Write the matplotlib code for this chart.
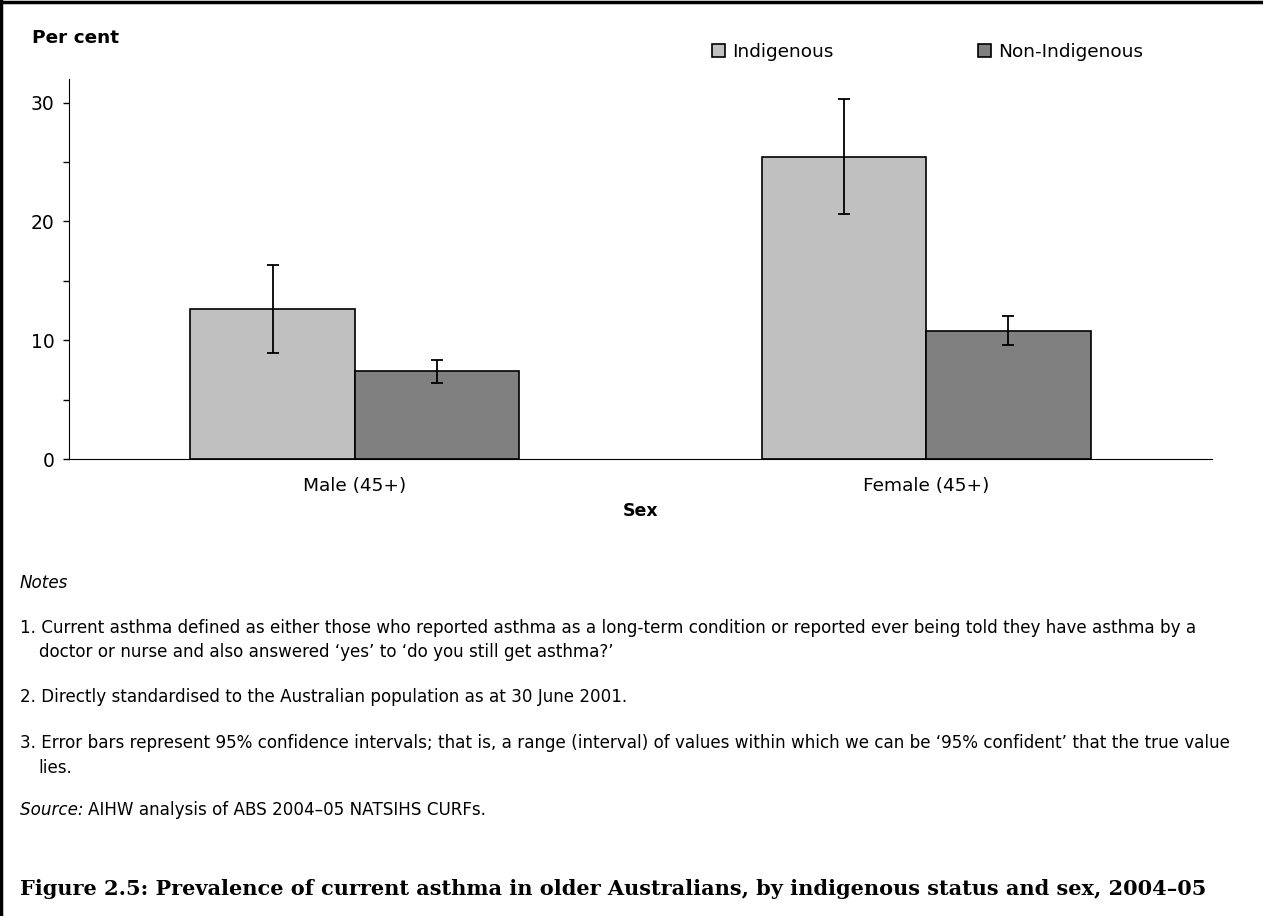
import matplotlib.pyplot as plt
import numpy as np
from matplotlib.lines import Line2D

plt.rcParams['font.family'] = ['DejaVu Sans']

# data
groups = ['Male (45+)', 'Female (45+)']
series = ['Indigenous', 'Non-Indigenous']
indigenous = [12.6, 25.4]
indigenous_lo = [8.9, 20.6]
indigenous_hi = [16.3, 30.3]
non_indigenous = [7.4, 10.8]
non_indigenous_lo = [6.4, 9.6]
non_indigenous_hi = [8.3, 12.0]

colors = ['#c0c0c0', '#808080']

fig = plt.figure(figsize=(12.63, 9.16), dpi=100)
ax = fig.add_axes([0.0546, 0.4989, 0.905, 0.4149])

x = np.arange(len(groups))
w = 0.2875
vals = [indigenous, non_indigenous]
los = [indigenous_lo, non_indigenous_lo]
his = [indigenous_hi, non_indigenous_hi]
for i, name in enumerate(series):
    pos = x + (i - 0.5) * w
    v = np.array(vals[i])
    err = [v - np.array(los[i]), np.array(his[i]) - v]
    ax.bar(pos, v, w, color=colors[i], edgecolor='black', linewidth=1.2, label=name,
           yerr=err, capsize=4, error_kw=dict(elinewidth=1.3, capthick=1.3, ecolor='black'))

ax.set_xlim(-0.5, 1.5)
ax.set_ylim(0, 32)
ax.set_yticks([0, 10, 20, 30])
ax.set_yticks([5, 15, 25], minor=True)
ax.tick_params(axis='y', which='both', direction='out', length=4.5, width=1, labelsize=13.5, pad=6)
ax.set_xticks(x)
ax.set_xticklabels(groups, fontsize=13.3)
ax.tick_params(axis='x', length=0, pad=13)
for s in ['top', 'right']:
    ax.spines[s].set_visible(False)

ax.set_xlabel('Sex', fontsize=12.5, fontweight='bold', labelpad=5)
fig.text(0.0253, 0.958, 'Per cent', fontsize=13.3, fontweight='bold', va='center')

leg = ax.legend(ncol=2, frameon=False, fontsize=13.3, loc='center left',
                bbox_to_anchor=(0.5626, 1.071), handlelength=0.72, handleheight=0.72,
                handletextpad=0.38, columnspacing=7.8, borderpad=0, borderaxespad=0)
for p in leg.get_patches():
    p.set_linewidth(1.2)

notes_fs = 12.1
x0 = 0.0155
x1 = 0.0305
fig.text(x0, 0.363, 'Notes', fontsize=notes_fs, style='italic', va='center')
fig.text(x0, 0.314, '1. Current asthma defined as either those who reported asthma as a long-term condition or reported ever being told they have asthma by a',
         fontsize=notes_fs, va='center')
fig.text(x1, 0.288, 'doctor or nurse and also answered \u2018yes\u2019 to \u2018do you still get asthma?\u2019',
         fontsize=notes_fs, va='center')
fig.text(x0, 0.239, '2. Directly standardised to the Australian population as at 30 June 2001.',
         fontsize=notes_fs, va='center')
fig.text(x0, 0.189, '3. Error bars represent 95% confidence intervals; that is, a range (interval) of values within which we can be \u201895% confident\u2019 that the true value',
         fontsize=notes_fs, va='center')
fig.text(x1, 0.162, 'lies.', fontsize=notes_fs, va='center')
src = fig.text(x0, 0.116, 'Source: ', fontsize=notes_fs, style='italic', va='center')
fig.canvas.draw()
bb = src.get_window_extent().transformed(fig.transFigure.inverted())
fig.text(bb.x1, 0.116, 'AIHW analysis of ABS 2004\u201305 NATSIHS CURFs.', fontsize=notes_fs, va='center')

fig.text(x0, 0.030, 'Figure 2.5: Prevalence of current asthma in older Australians, by indigenous status and sex, 2004\u201305',
         fontsize=15.05, fontweight='bold', family=['DejaVu Serif'], va='center')

# page frame (top and left)
fig.add_artist(Line2D([0.001, 0.001], [0, 1], transform=fig.transFigure, color='black', linewidth=2.5))
fig.add_artist(Line2D([0, 1], [0.998, 0.998], transform=fig.transFigure, color='black', linewidth=2.5))

fig.savefig('out.png', dpi=100)
